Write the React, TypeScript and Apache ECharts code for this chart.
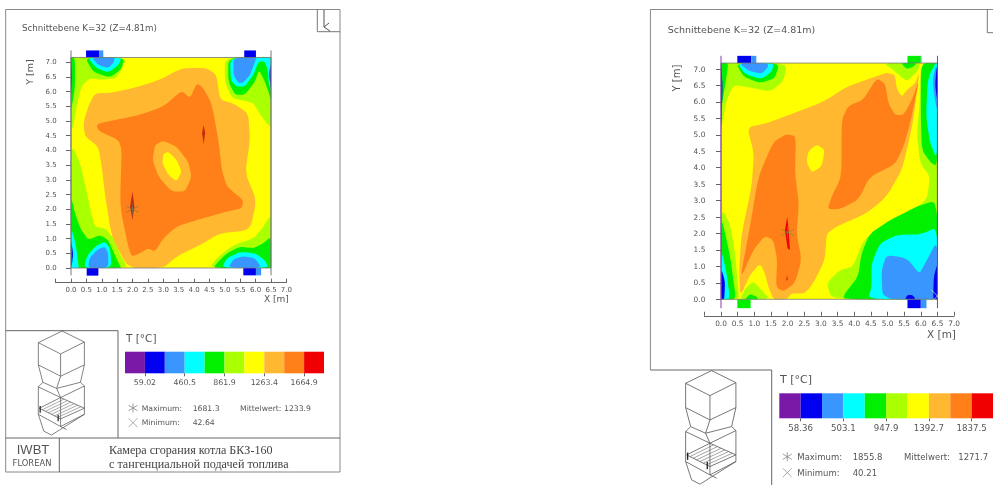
import React, { useEffect, useRef } from "react";
import * as echarts from "echarts";

type P = number[][];
const PURPLE = "#7a18a8", BLUE = "#0000f0", SKY = "#3a96ff", CYAN = "#00ffff", GREEN = "#00f000",
  LIME = "#aaff00", YELLOW = "#ffff00", AMBER = "#ffb830", ORANGE = "#ff8018", RED = "#f00000", DARKRED = "#c82810";

const xTicks = ["0.0","0.5","1.0","1.5","2.0","2.5","3.0","3.5","4.0","4.5","5.0","5.5","6.0","6.5","7.0"];
const yTicks = ["0.0","0.5","1.0","1.5","2.0","2.5","3.0","3.5","4.0","4.5","5.0","5.5","6.0","6.5","7.0"];

const barColors = [PURPLE, BLUE, SKY, CYAN, GREEN, LIME, YELLOW, AMBER, ORANGE, RED];
const leftBarEdges = [-141.7, 59.02, 259.8, 460.5, 661.2, 861.9, 1062.6, 1263.4, 1464.1, 1664.9, 1865.6];
const rightBarEdges = [-164, 58.36, 280.7, 503.1, 725.5, 947.9, 1170.3, 1392.7, 1615.1, 1837.5, 2059.9];
const leftBarTicks = [59.02, 460.5, 861.9, 1263.4, 1664.9];
const rightBarTicks = [58.36, 503.1, 947.9, 1392.7, 1837.5];

const leftTop = 7.16, rightTop = 7.18;

// ---- left plane: temperature bands in metres, painted from the outside in
const leftBands: [string, P][] = [
  [LIME, [[0,4.55],[0.1,5.0],[0.2,5.6],[0.35,6.2],[0.6,6.45],[1.0,6.4],[1.45,6.45],[1.65,6.75],[1.81,7.16],[0,7.16]]],
  [LIME, [[5.0,7.16],[5.0,6.34],[5.22,5.78],[5.76,5.66],[5.93,5.6],[6.09,5.32],[6.3,5.0],[6.5,4.75],[6.5,7.16]]],
  [LIME, [[0,4.25],[0.3,3.55],[0.5,2.65],[0.67,1.8],[0.78,1.4],[1.1,1.35],[1.43,0.95],[1.6,0.44],[1.85,0],[0,0]]],
  [LIME, [[6.5,1.85],[6.25,1.4],[5.93,1.0],[5.28,0.78],[4.73,0.33],[4.5,0],[6.5,0]]],
  [GREEN, [[0,5.3],[0.13,6.15],[0.13,7.0],[0.1,7.16],[0,7.16]]],
  [GREEN, [[0.45,7.16],[0.73,6.66],[1.27,6.48],[1.65,6.78],[1.72,7.16]]],
  [GREEN, [[5.11,7.16],[5.11,6.34],[5.33,5.89],[5.65,5.89],[5.98,6.34],[6.11,6.74],[6.3,6.34],[6.45,5.89],[6.5,5.66],[6.5,7.16]]],
  [GREEN, [[0,2.45],[0.12,1.9],[0.3,1.35],[0.56,0.95],[0.94,1.12],[1.21,0.95],[1.38,0.55],[1.6,0.05],[1.65,0],[0,0]]],
  [GREEN, [[6.5,1.07],[6.25,0.84],[5.93,0.67],[5.5,0.73],[5.06,0.5],[4.73,0.15],[4.63,0],[6.5,0]]],
  [CYAN, [[0.53,7.16],[0.83,6.8],[1.21,6.65],[1.54,6.9],[1.65,7.16]]],
  [CYAN, [[5.17,7.16],[5.19,6.4],[5.38,6.17],[5.65,6.17],[5.93,6.57],[6.09,7.02],[6.3,7.03],[6.4,6.7],[6.42,6.3],[6.5,6.0],[6.5,7.16]]],
  [CYAN, [[0,1.4],[0.16,0.78],[0.24,0.1],[0.26,0],[0,0]]],
  [CYAN, [[0.43,0],[0.51,0.39],[0.78,0.73],[1.1,0.9],[1.27,0.67],[1.32,0]]],
  [CYAN, [[4.9,0],[5.06,0.33],[5.5,0.55],[5.98,0.5],[6.3,0.27],[6.42,0]]],
  [SKY, [[0.67,7.16],[0.89,6.9],[1.21,6.8],[1.38,6.98],[1.43,7.16]]],
  [SKY, [[5.28,7.16],[5.28,6.57],[5.44,6.29],[5.6,6.31],[5.82,6.57],[6.0,7.08],[6.03,7.16]]],
  [SKY, [[0.56,0],[0.6,0.33],[0.84,0.61],[1.1,0.73],[1.21,0.5],[1.21,0]]],
  [SKY, [[5.11,0],[5.28,0.3],[5.6,0.4],[5.98,0.33],[6.2,0]]],
  [BLUE, [[0,7.16],[0.04,6.5],[0,5.9]]],
  [BLUE, [[6.5,7.0],[6.44,6.6],[6.5,6.0]]],
  [BLUE, [[0,0.95],[0.07,0.5],[0.03,0.1],[0,0.05]]],
  [AMBER, [[0.78,5.95],[1.27,5.95],[2.03,6.12],[2.89,6.4],[3.6,6.8],[4.41,6.8],[4.73,6.57],[4.84,5.72],[5.28,5.6],[5.76,5.26],[5.82,4.36],[5.66,3.22],[6.03,2.31],[5.82,1.29],[4.84,1.18],[4.19,0.78],[3.43,0.39],[3.0,0],[1.86,0],[1.38,0.95],[1.27,1.4],[1.1,2.54],[1.0,3.45],[0.89,4.13],[0.46,4.47],[0.4,4.92],[0.56,5.49]]],
  [ORANGE, [[0.89,4.92],[1.38,5.02],[2.24,5.21],[3.0,5.49],[3.6,6.04],[3.87,5.77],[4.09,6.29],[4.3,6.12],[4.57,5.6],[4.79,4.36],[4.9,3.34],[5.06,2.77],[5.6,2.31],[5.55,2.03],[5.06,1.92],[4.08,1.63],[3.43,1.41],[3.0,1.01],[2.73,0.56],[2.51,0.67],[2.24,0.5],[1.97,0.39],[1.86,0.73],[1.59,2.09],[1.65,4.02],[1.54,4.36],[0.94,4.64],[0.83,4.8]]],
  [AMBER, [[3.0,4.33],[3.43,4.13],[3.81,3.62],[3.92,3.11],[3.71,2.6],[3.27,2.6],[2.84,3.11],[2.65,3.68],[2.73,4.19]]],
  [YELLOW, [[3.16,3.96],[3.43,3.68],[3.6,3.28],[3.43,2.94],[3.16,3.17],[2.97,3.56],[3.0,3.88]]],
];
const leftCore: [string, P][] = [
  [DARKRED, [[2,2.6],[2.06,2.09],[2,1.63],[1.92,2.09]]],
  [DARKRED, [[4.31,4.87],[4.36,4.58],[4.31,4.22],[4.26,4.58]]],
];
const leftPorts: [string, P][] = [
  [BLUE, [[0.49,7.16],[0.92,7.16],[0.92,7.4],[0.49,7.4]]],
  [SKY, [[0.92,7.16],[1.05,7.16],[1.05,7.4],[0.92,7.4]]],
  [BLUE, [[5.63,7.16],[6.01,7.16],[6.01,7.4],[5.63,7.4]]],
  [BLUE, [[0.51,0],[0.89,0],[0.89,-0.26],[0.51,-0.26]]],
  [BLUE, [[5.6,0],[6.01,0],[6.01,-0.25],[5.6,-0.25]]],
  [SKY, [[6.01,0],[6.18,0],[6.18,-0.25],[6.01,-0.25]]],
];

// ---- right plane
const rightBands: [string, P][] = [
  [LIME, [[0,2.77],[0.27,2.31],[0.42,1.4],[0.5,0.5],[0.55,0],[0,0]]],
  [LIME, [[0,5.15],[0.17,6.06],[0.37,6.51],[0.77,6.46],[1.48,6.31],[1.87,6.62],[1.99,7.18],[0,7.18]]],
  [LIME, [[4.87,7.18],[5.18,6.97],[5.58,6.61],[5.93,6.97],[5.97,7.18]]],
  [LIME, [[6,7.18],[5.98,6.06],[5.88,5.05],[5.98,4.13],[6.28,3.73],[6.18,3.02],[5.58,2.61],[4.87,2.21],[4.27,1.8],[3.97,0.99],[3.57,0.89],[3.17,0.49],[3.32,0],[6.5,0],[6.5,7.18]]],
  [LIME, [[0.55,0],[0.77,0.38],[0.97,0.54],[1.17,0.33],[1.47,0]]],
  [GREEN, [[0,5.75],[0.15,6.67],[0.22,7.18],[0,7.18]]],
  [GREEN, [[0.45,7.18],[0.67,6.77],[1.17,6.57],[1.62,6.72],[1.75,7.18]]],
  [GREEN, [[5.4,7.18],[5.58,7],[5.78,7.07],[5.88,7.18]]],
  [GREEN, [[6.0,7.18],[6.0,5.55],[6.03,4.54],[6.3,4.15],[6.5,4.05],[6.5,7.18]]],
  [GREEN, [[6.5,3.02],[5.88,2.82],[5.08,2.41],[4.47,2.0],[4.22,1.4],[4.12,0.69],[3.72,0.18],[3.67,0],[6.5,0]]],
  [GREEN, [[0,2.5],[0.15,1.9],[0.29,1.2],[0.37,0.6],[0.45,0],[0,0]]],
  [GREEN, [[0.72,0],[0.87,0.16],[1.07,0.08],[1.12,0]]],
  [CYAN, [[0.49,7.18],[0.72,6.85],[1.22,6.69],[1.52,6.92],[1.6,7.18]]],
  [CYAN, [[0,1.55],[0.17,0.79],[0.27,0],[0,0]]],
  [CYAN, [[6.45,7.18],[6.28,6.87],[6.2,6.56],[6.16,5.55],[6.28,4.74],[6.5,4.23],[6.5,7.18]]],
  [CYAN, [[6.5,2.2],[6.0,1.97],[5.28,1.96],[4.77,1.7],[4.52,1.09],[4.52,0.38],[4.42,0],[6.5,0]]],
  [SKY, [[0.55,7.18],[0.82,6.95],[1.22,6.85],[1.42,7.07],[1.39,7.18]]],
  [SKY, [[6.47,7.18],[6.36,6.7],[6.4,6.2],[6.5,5.7]]],
  [SKY, [[6.5,1.8],[6.13,1.09],[5.96,0.77],[5.58,1.25],[4.97,1.35],[4.82,0.89],[4.85,0],[6.5,0]]],
  [BLUE, [[0,7.18],[0.05,6.5],[0,5]]],
  [BLUE, [[0,0.95],[0.12,0.55],[0.1,0],[0,0]]],
  [BLUE, [[6.48,7.18],[6.43,6.5],[6.5,6.0]]],
  [BLUE, [[6.37,0],[6.39,0.69],[6.5,1.09],[6.5,0]]],
  [BLUE, [[5.52,0],[5.6,0.13],[5.75,0.13],[5.85,0]]],
  [AMBER, [[0.82,5.1],[0.87,5.25],[1.37,5.35],[2.17,5.65],[3.07,6.0],[3.77,6.46],[4.78,6.82],[4.98,6.89],[5.22,6.82],[5.28,6.4],[5.43,6.16],[5.58,6.36],[5.83,6.56],[5.96,6.92],[5.78,5.5],[5.63,4.74],[5.43,3.93],[4.97,3.12],[4.37,2.61],[3.47,2.21],[3.17,2.0],[3.12,1.2],[2.77,0.49],[2.52,0.18],[2.12,0.18],[1.97,0],[1.57,0],[1.42,0.39],[1.32,0.79],[1.17,1.09],[0.87,0.74],[0.57,0.08],[0.55,0.99],[0.62,2.0],[0.92,3.42],[0.99,4.44]]],
  [ORANGE, [[0.57,0.59],[0.87,2.21],[1.12,3.73],[1.57,4.79],[1.97,5.02],[2.25,4.96],[2.22,3.83],[2.34,2.92],[2.27,2.0],[2.42,1.2],[2.22,0.49],[1.87,0.23],[1.65,0.38],[1.69,1.2],[1.57,1.8],[1.32,1.93],[0.97,1.5]]],
  [ORANGE, [[3.2,2.74],[3.32,3.12],[3.62,3.73],[3.62,5.45],[3.82,5.88],[4.27,6.06],[4.67,6.72],[4.93,6.56],[5.03,5.95],[5.23,5.6],[5.48,5.6],[5.73,6.05],[5.96,6.71],[5.68,5.35],[5.48,4.64],[5.23,4.1],[4.47,3.73],[4.12,3.02],[3.57,2.74]]],
  [YELLOW, [[2.87,4.71],[3.12,4.54],[3.02,4.03],[2.72,3.85],[2.57,4.18],[2.62,4.49]]],
];
const rightCore: [string, P][] = [
  [RED, [[1.99,2.51],[2.03,2.1],[2.07,1.5],[2.0,1.55],[1.92,2.1]]],
  [DARKRED, [[1.98,0.74],[2.01,0.61],[1.96,0.56]]],
];
const rightPorts: [string, P][] = [
  [BLUE, [[0.49,7.18],[0.91,7.18],[0.91,7.4],[0.49,7.4]]],
  [SKY, [[0.91,7.18],[1.06,7.18],[1.06,7.4],[0.91,7.4]]],
  [GREEN, [[5.6,7.18],[6.0,7.18],[6.0,7.4],[5.6,7.4]]],
  [SKY, [[6.0,7.18],[6.02,7.18],[6.02,7.4],[6.0,7.4]]],
  [GREEN, [[0.49,0],[0.89,0],[0.89,-0.27],[0.49,-0.27]]],
  [BLUE, [[5.6,0],[6.0,0],[6.0,-0.27],[5.6,-0.27]]],
  [SKY, [[6.0,0],[6.17,0],[6.17,-0.27],[6.0,-0.27]]],
];

const leftMax = [2.0, 2.0];
const rightMax = [2.0, 2.03];
const rightMin = [6.5, 0.1];

// Rounds the hand-read contour outlines; the box corners stay sharp.
function chaikin(pts: P, top: number): P {
  const r = 0.84;
  let cur = pts.map((p) => ({ p, f: (p[0] === 0 || p[0] === 6.5) && (p[1] === 0 || p[1] === top) }));
  for (let it = 0; it < 3; it++) {
    const next: typeof cur = [];
    for (let i = 0; i < cur.length; i++) {
      const a = cur[i], b = cur[(i + 1) % cur.length];
      if (a.f) next.push(a);
      else next.push({ p: [a.p[0] * r + b.p[0] * (1 - r), a.p[1] * r + b.p[1] * (1 - r)], f: false });
      if (!b.f) next.push({ p: [a.p[0] * (1 - r) + b.p[0] * r, a.p[1] * (1 - r) + b.p[1] * r], f: false });
    }
    cur = next;
  }
  return cur.map((c) => c.p);
}

const polySeries = (items: [string, P][], grid: number, top: number, smooth: boolean) => ({
  type: "custom", xAxisIndex: grid, yAxisIndex: grid, silent: true, clip: false,
  data: items.map((it, i) => [it[1][0][0], it[1][0][1], i]),
  renderItem: (params: any, api: any) => {
    const it = items[params.dataIndex];
    const pts = smooth ? chaikin(it[1], top) : it[1];
    return {
      type: "polygon",
      shape: { points: pts.map((p) => api.coord(p)) },
      style: { fill: it[0], stroke: null },
    };
  },
});

const plotFrame = (grid: number, top: number, low: number, sideColor: string) => ({
  type: "custom", xAxisIndex: grid, yAxisIndex: grid, silent: true, clip: false,
  data: [[0, 0]],
  renderItem: (_: any, api: any) => ({
    type: "group",
    children: [
      { type: "polygon", shape: { points: [[0,0],[6.5,0],[6.5,top],[0,top]].map((p) => api.coord(p)) }, style: { fill: "none", stroke: "#777", lineWidth: 0.8 } },
      { type: "polyline", shape: { points: [[0,low],[0,7.4]].map((p) => api.coord(p)) }, style: { fill: "none", stroke: sideColor, lineWidth: 1 } },
      { type: "polyline", shape: { points: [[6.5,low],[6.5,7.4]].map((p) => api.coord(p)) }, style: { fill: "none", stroke: sideColor, lineWidth: 1 } },
    ],
  }),
});

const barSeries = (edges: number[], grid: number) => ({
  type: "custom", xAxisIndex: grid, yAxisIndex: grid, silent: true, clip: false,
  data: barColors.map((_, i) => [edges[i], edges[i + 1]]),
  renderItem: (params: any, api: any) => {
    const a = api.coord([api.value(0), 0]);
    const b = api.coord([api.value(1), 1]);
    return { type: "rect", shape: { x: a[0], y: b[1], width: b[0] - a[0], height: a[1] - b[1] }, style: { fill: barColors[params.dataIndex] } };
  },
});

const GRAY = "#555";
const txt = (text: string, x: number, y: number, size: number, extra: any = {}) => ({
  type: "text", x, y, rotation: extra.rotation || 0, silent: true,
  style: { text, fontSize: size, fontFamily: extra.font || "DejaVu Sans", fill: extra.fill || GRAY, align: extra.align || "left", verticalAlign: "middle" },
});
const ln = (x1: number, y1: number, x2: number, y2: number, stroke = "#666", w = 1) => ({
  type: "line", silent: true, shape: { x1, y1, x2, y2 }, style: { stroke, lineWidth: w },
});
const star = (x: number, y: number, r: number, c: string) => [
  ln(x, y - r, x, y + r, c, 0.8), ln(x - r, y - r * 0.6, x + r, y + r * 0.6, c, 0.8), ln(x - r, y + r * 0.6, x + r, y - r * 0.6, c, 0.8),
];
const cross = (x: number, y: number, r: number, c: string) => [ln(x - r, y - r, x + r, y + r, c, 0.8), ln(x - r, y + r, x + r, y - r, c, 0.8)];

function boiler(x: number, y: number, s: number) {
  const L = (a: number[], b: number[], col = "#555", w = 2.4) => ln(a[0], a[1], b[0], b[1], col, w);
  const A = [185,92], B = [258,128], C = [180,167], D = [107,130], E = [107,203], F = [258,203], G = [180,240];
  const H = [122,260], I = [245,260], J = [167,280], K = [107,275], M = [180,310], N = [107,365], O = [258,365], Pt = [180,405];
  const Lp = [258,272], Q = [110,345], R = [258,345], S = [180,380], T = [125,420], U = [150,433], V = [200,415];
  const seg = [
    [A,B],[B,C],[C,D],[D,A],[D,E],[B,F],[C,G],[E,G],[G,F],[E,H],[F,I],[G,J],[H,J],[J,I],[H,K],[I,Lp],
    [K,M],[M,Lp],[J,M],[K,N],[Lp,O],[M,Pt],[Q,M],[M,R],[R,S],[S,Q],[N,Pt],[Pt,O],[N,T],[T,U],[U,O],[Pt,V],
  ];
  const hatch: any[] = [];
  for (let i = 1; i < 7; i++) {
    const t = i / 7;
    hatch.push(L([Q[0] + (S[0] - Q[0]) * t, Q[1] + (S[1] - Q[1]) * t], [M[0] + (R[0] - M[0]) * t, M[1] + (R[1] - M[1]) * t], "#666", 1.8));
  }
  return {
    type: "group", x, y, scaleX: s, scaleY: s,
    children: [
      ...seg.map((q) => L(q[0], q[1])),
      ...hatch,
      L([113,338], [113,360], "#222", 4),
      L([172,366], [172,388], "#222", 4),
    ],
  };
}

function makeOption() {
  const xAxisPlot = (grid: number, fs: number) => ({
    type: "value", gridIndex: grid, min: -0.5, max: 7, interval: 0.5,
    splitLine: { show: false },
    axisLine: { show: true, onZero: false, lineStyle: { color: "#666", width: 1 } },
    axisTick: { show: true, inside: true, length: 4, lineStyle: { color: "#666" } },
    axisLabel: {
      fontSize: fs, fontFamily: "DejaVu Sans", color: GRAY, margin: 4,
      customValues: xTicks.map(Number),
      formatter: (v: number) => xTicks[Math.round(v * 2)] ?? "",
    },
  });
  const yAxisPlot = (grid: number, fs: number) => ({
    type: "value", gridIndex: grid, min: -0.5, max: 7.5, interval: 0.5, offset: -3,
    splitLine: { show: false },
    axisLine: { show: false },
    axisTick: { show: true, length: 5, lineStyle: { color: "#666" }, customValues: yTicks.map(Number) },
    axisLabel: {
      fontSize: fs, fontFamily: "DejaVu Sans", color: GRAY, margin: 2,
      customValues: yTicks.map(Number),
      formatter: (v: number) => yTicks[Math.round(v * 2)] ?? "",
    },
  });
  const xAxisBar = (grid: number, edges: number[], ticks: number[], labels: string[], fs: number) => ({
    type: "value", gridIndex: grid, min: edges[0], max: edges[edges.length - 1],
    splitLine: { show: false }, axisLine: { show: false },
    axisTick: { show: true, length: 3, lineStyle: { color: "#666" }, customValues: ticks },
    axisLabel: {
      fontSize: fs, fontFamily: "DejaVu Sans", color: GRAY, margin: 5, customValues: ticks,
      formatter: (v: number) => labels[ticks.indexOf(v)] ?? "",
    },
  });
  const yAxisBar = (grid: number) => ({ type: "value", gridIndex: grid, min: 0, max: 1, show: false });

  const maxSym = "path://M0 -10V10M-8.7 -5L8.7 5M-8.7 5L8.7 -5";
  const minSym = "path://M-8 -8L8 8M-8 8L8 -8";
  const marker = (grid: number, pt: number[], sym: string, size: number, col: string) => ({
    type: "scatter", xAxisIndex: grid, yAxisIndex: grid, silent: true, clip: false,
    symbol: sym, symbolSize: size, data: [pt],
    itemStyle: { color: "transparent", borderColor: col, borderWidth: 0.8 },
  });

  return {
    animation: false,
    backgroundColor: "#fff",
    grid: [
      { left: 55.6, top: 47.5, width: 230.8, height: 235.2 },
      { left: 704.35, top: 52.55, width: 249.75, height: 263.2 },
      { left: 125, top: 351.7, width: 199, height: 21.6 },
      { left: 779.3, top: 393.3, width: 215.3, height: 25 },
    ],
    xAxis: [
      xAxisPlot(0, 7), xAxisPlot(1, 7.4),
      xAxisBar(2, leftBarEdges, leftBarTicks, ["59.02", "460.5", "861.9", "1263.4", "1664.9"], 7.8),
      xAxisBar(3, rightBarEdges, rightBarTicks, ["58.36", "503.1", "947.9", "1392.7", "1837.5"], 8.6),
    ],
    yAxis: [yAxisPlot(0, 7), yAxisPlot(1, 7.4), yAxisBar(2), yAxisBar(3)],
    series: [
      polySeries([[YELLOW, [[0,0],[6.5,0],[6.5,leftTop],[0,leftTop]]]], 0, leftTop, false),
      polySeries(leftBands, 0, leftTop, true),
      polySeries(leftCore, 0, leftTop, false),
      polySeries(leftPorts, 0, leftTop, false),
      plotFrame(0, leftTop, -0.25, "#777"),
      marker(0, leftMax, maxSym, 12, "#667755"),
      polySeries([[YELLOW, [[0,0],[6.5,0],[6.5,rightTop],[0,rightTop]]]], 1, rightTop, false),
      polySeries(rightBands, 1, rightTop, true),
      polySeries(rightCore, 1, rightTop, false),
      polySeries(rightPorts, 1, rightTop, false),
      plotFrame(1, rightTop, -0.27, "#8a3aa8"),
      marker(1, rightMax, maxSym, 13, "#559944"),
      marker(1, rightMin, minSym, 12, "#ffffaa"),
      barSeries(leftBarEdges, 2),
      barSeries(rightBarEdges, 3),
    ],
    graphic: {
      elements: [
        // left page frame
        ln(5.7, 9.5, 340, 9.5, "#888"), ln(5.7, 9.5, 5.7, 472, "#888"), ln(340, 9.5, 340, 472, "#888"), ln(5.7, 472, 340, 472, "#888"),
        ln(5.7, 330.7, 118, 330.7), ln(118, 330.7, 118, 438), ln(5.7, 438, 340, 438), ln(59.3, 438, 59.3, 472),
        ln(317.3, 9.5, 317.3, 31.7, "#777"), ln(317.3, 31.7, 340, 31.7, "#777"),
        ln(324, 10, 324, 27, "#555"), ln(324, 27, 330, 31, "#555"), ln(324, 27, 329, 23, "#555"),
        // right page frame
        ln(650.4, 9.5, 993, 9.5, "#888"), ln(650.4, 9.5, 650.4, 370, "#888"),
        ln(650.4, 370, 771.7, 370), ln(771.7, 370, 771.7, 485),
        ln(987.3, 9.5, 987.3, 32.7, "#777"), ln(987.3, 32.7, 993, 32.7, "#777"),
        // titles and axis names
        txt("Schnittebene K=32 (Z=4.81m)", 22, 28.3, 8.7),
        txt("Schnittebene K=32 (Z=4.81m)", 667.7, 29.3, 9.5),
        txt("X [m]", 264, 299, 9),
        txt("X [m]", 927, 334, 10.5),
        txt("Y [m]", 29, 72, 9.5, { rotation: Math.PI / 2, align: "center" }),
        txt("Y [m]", 676, 78, 10, { rotation: Math.PI / 2, align: "center" }),
        // left legend
        txt("T [°C]", 126, 338, 10.5),
        ...star(133, 408, 4.5, "#888"),
        ...cross(133, 422.7, 4.5, "#999"),
        txt("Maximum:", 141.7, 408, 7.7), txt("1681.3", 192.7, 408, 7.7),
        txt("Mittelwert:", 240, 408, 7.7), txt("1233.9", 284, 408, 7.7),
        txt("Minimum:", 141.7, 422.7, 7.7), txt("42.64", 192.7, 422.7, 7.7),
        // right legend
        txt("T [°C]", 780, 379.3, 11),
        ...star(787.3, 456.7, 4.5, "#888"),
        ...cross(787.3, 472.7, 4.5, "#999"),
        txt("Maximum:", 797.3, 456.7, 8.5), txt("1855.8", 852.7, 456.7, 8.5),
        txt("Mittelwert:", 904, 456.7, 8.5), txt("1271.7", 958.3, 456.7, 8.5),
        txt("Minimum:", 797.3, 472.7, 8.5), txt("40.21", 852.7, 472.7, 8.5),
        // title block
        txt("IWBT", 33, 449, 13, { align: "center", font: "Liberation Sans" }),
        txt("FLOREAN", 32, 462.7, 8.4, { align: "center" }),
        txt("Камера сгорания котла БКЗ-160", 109, 450, 12.1, { font: "Liberation Serif", fill: "#444" }),
        txt("с тангенциальной подачей топлива", 109, 464, 12.1, { font: "Liberation Serif", fill: "#444" }),
        boiler(5.7, 303, 0.3047),
        boiler(650, 340, 1 / 3),
      ],
    },
  };
}

export default function App() {
  const ref = useRef<HTMLDivElement>(null);
  useEffect(() => {
    document.body.style.margin = "0";
    const chart = echarts.init(ref.current!, undefined, { renderer: "svg" });
    chart.setOption(makeOption() as any);
    return () => chart.dispose();
  }, []);
  return <div ref={ref} style={{ width: 993, height: 485, overflow: "hidden", filter: "blur(0.35px)" }} />;
}
